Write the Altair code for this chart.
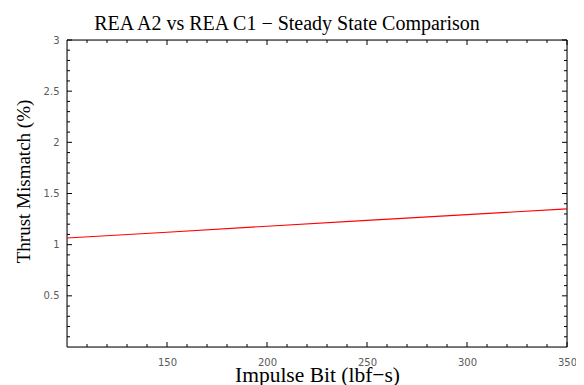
import altair as alt
import pandas as pd

# Data
impulse_bit = [100, 150, 200, 250, 300, 350]
thrust_mismatch = [1.065, 1.122, 1.180, 1.237, 1.294, 1.350]

x_major = [150, 200, 250, 300, 350]
x_minor = [110, 120, 130, 140, 160, 170, 180, 190, 210, 220, 230, 240,
           260, 270, 280, 290, 310, 320, 330, 340]
y_major = [0.5, 1.0, 1.5, 2.0, 2.5, 3.0]
y_minor = [0.1, 0.2, 0.3, 0.4, 0.6, 0.7, 0.8, 0.9, 1.1, 1.2, 1.3, 1.4,
           1.6, 1.7, 1.8, 1.9, 2.1, 2.2, 2.3, 2.4, 2.6, 2.7, 2.8, 2.9]

W, H = 500, 307
XDOM = [100, 350]
YDOM = [0, 3]

df = pd.DataFrame({"x": impulse_bit, "y": thrust_mismatch})

xs = alt.Scale(domain=XDOM, nice=False, zero=False)
ys = alt.Scale(domain=YDOM, nice=False, zero=False)

x_axis = alt.Axis(
    values=x_major, ticks=False, domain=False, grid=False, format="d",
    labelFont="DejaVu Sans", labelFontSize=10, labelColor="#5a5a5a",
    labelPadding=10, labelFlush=False,
    title="Impulse Bit (lbf\u2212s)", titleFont="Liberation Serif",
    titleFontSize=21.5, titleFontWeight="normal", titleColor="black",
    titleX=250, titleY=28, titleBaseline="middle", titleAlign="center",
)
y_axis = alt.Axis(
    values=y_major, ticks=False, domain=False, grid=False, format="~g",
    labelFont="DejaVu Sans", labelFontSize=10, labelColor="#5a5a5a",
    labelPadding=8, labelFlush=False,
    title="Thrust Mismatch (%)", titleFont="Liberation Serif",
    titleFontSize=19, titleFontWeight="normal", titleColor="black",
    titleX=-44, titleY=141, titleAngle=-90, titleBaseline="middle",
    titleAlign="center",
)

TICK_COLOR = "#000000"

def xticks(vals, length):
    d = pd.DataFrame({"v": vals})
    bottom = alt.Chart(d).mark_rule(color=TICK_COLOR, strokeWidth=1).encode(
        x=alt.X("v:Q", scale=xs, axis=None),
        y=alt.value(H), y2=alt.value(H - length))
    top = alt.Chart(d).mark_rule(color=TICK_COLOR, strokeWidth=1).encode(
        x=alt.X("v:Q", scale=xs, axis=None),
        y=alt.value(0), y2=alt.value(length))
    return [bottom, top]

def yticks(vals, length):
    d = pd.DataFrame({"v": vals})
    left = alt.Chart(d).mark_rule(color=TICK_COLOR, strokeWidth=1).encode(
        y=alt.Y("v:Q", scale=ys, axis=None),
        x=alt.value(0), x2=alt.value(length))
    right = alt.Chart(d).mark_rule(color=TICK_COLOR, strokeWidth=1).encode(
        y=alt.Y("v:Q", scale=ys, axis=None),
        x=alt.value(W), x2=alt.value(W - length))
    return [left, right]

# plot frame drawn along the scale extremes
frame_x = pd.DataFrame({"v": XDOM})
frame_y = pd.DataFrame({"v": YDOM})
frame = [
    alt.Chart(frame_x).mark_rule(color="black", strokeWidth=1).encode(
        x=alt.X("v:Q", scale=xs, axis=None),
        y=alt.value(0), y2=alt.value(H)),
    alt.Chart(frame_y).mark_rule(color="black", strokeWidth=1).encode(
        y=alt.Y("v:Q", scale=ys, axis=None),
        x=alt.value(0), x2=alt.value(W)),
]

line = alt.Chart(df).mark_line(color="#ff0000", strokeWidth=1.1, clip=True).encode(
    x=alt.X("x:Q", scale=xs, axis=x_axis),
    y=alt.Y("y:Q", scale=ys, axis=y_axis),
)

layers = frame + xticks(x_major, 5) + xticks(x_minor, 3) + yticks(y_major, 5) + yticks(y_minor, 3) + [line]

chart = alt.layer(*layers).resolve_axis(
    x="independent", y="independent"
).properties(
    width=W, height=H,
    title=alt.TitleParams(
        "REA A2 vs REA C1 \u2212 Steady State Comparison",
        font="Liberation Serif", fontSize=20, fontWeight="normal",
        color="black", anchor="middle", dx=-30, offset=1,
    ),
    autosize=alt.AutoSizeParams(type="none"),
    padding={"left": 59, "top": 32, "right": 9, "bottom": 38},
).configure(background="white")

chart.save("out.html", embed_options={"renderer": "svg", "actions": False})
